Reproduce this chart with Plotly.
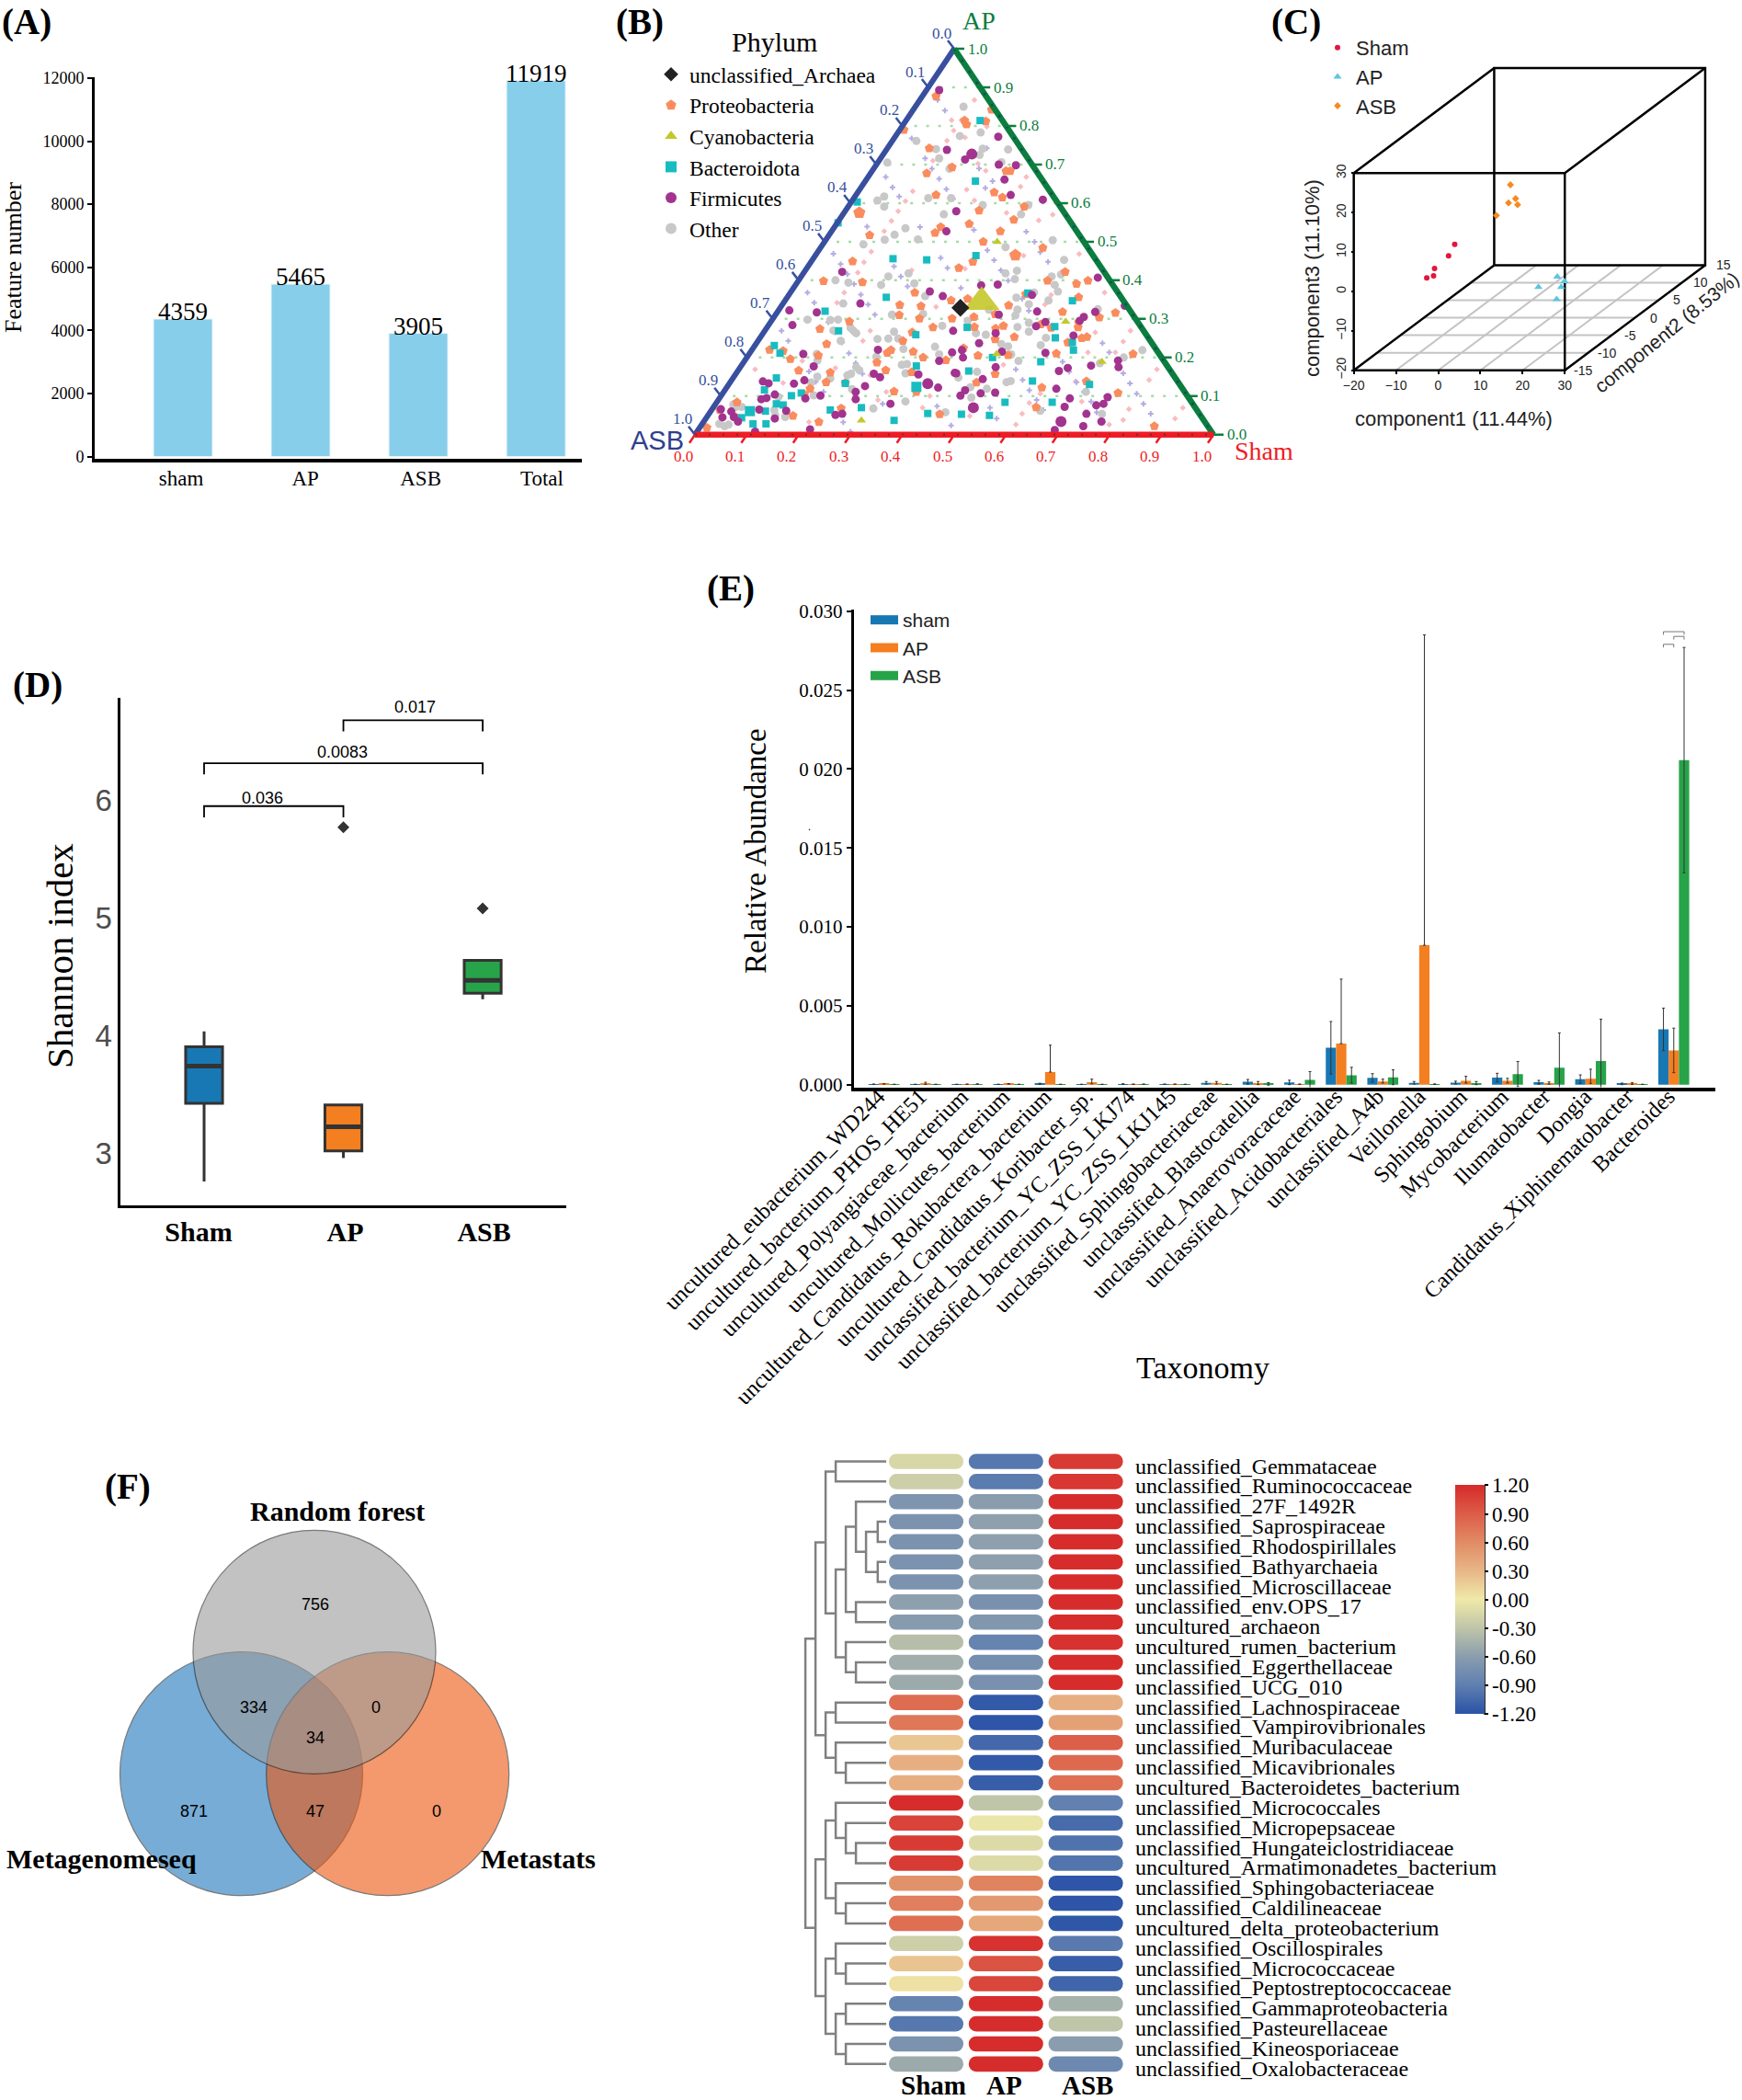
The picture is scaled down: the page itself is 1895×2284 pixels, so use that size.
import plotly.graph_objects as go

W, H = 1895, 2284
SERIF = "Liberation Serif"
SANS = "Liberation Sans"

# ---------- Panel A ----------
a_labels = ["sham", "AP", "ASB", "Total"]
a_values = [4359, 5465, 3905, 11919]
a_ticks = [0, 2000, 4000, 6000, 8000, 10000, 12000]

# ---------- Panel B : ternary plane coordinates (horizontal position, AP share) ----------
b_ticks = [0.0, 0.1, 0.2, 0.3, 0.4, 0.5, 0.6, 0.7, 0.8, 0.9, 1.0]
b_grid = [0.1, 0.2, 0.3, 0.4, 0.5, 0.6, 0.7, 0.8, 0.9]
archaea = [(.512, .329)]
cyano_big = [(.553, .344)]
cyano = [(.321, .037), (.583, .500), (.715, .293), (.582, .209), (.785, .189)]
firm_big = [(.534, .727), (.449, .132), (.537, .070), (.706, .034)]
firmicutes = [
    (.471, .893), (.521, .713), (.486, .738), (.586, .700), (.619, .698), (.597, .661), (.609, .621), (.671, .609),
    (.504, .579), (.485, .527), (.585, .772), (.284, .422), (.182, .322), (.235, .317), (.188, .284), (.319, .340),
    (.453, .371), (.478, .359), (.353, .220), (.498, .269), (.209, .209), (.229, .177), (.496, .213), (.471, .191),
    (.501, .160), (.431, .156), (.345, .158), (.357, .149), (.328, .126), (.211, .141), (.191, .132), (.131, .138),
    (.142, .133), (.310, .111), (.242, .101), (.310, .092), (.154, .104), (.138, .095), (.128, .092), (.213, .094),
    (.377, .080), (.469, .122), (.124, .065), (.070, .060), (.050, .066), (.053, .045), (.075, .046), (.083, .034),
    (.154, .042), (.176, .062), (.271, .051), (.284, .054), (.222, .014), (.116, .008), (.777, .407), (.552, .387),
    (.584, .389), (.650, .362), (.829, .334), (.660, .319), (.586, .311), (.772, .318), (.750, .305), (.676, .292),
    (.658, .281), (.742, .295), (.730, .257), (.580, .263), (.548, .237), (.515, .219), (.517, .200), (.592, .215),
    (.676, .212), (.816, .192), (.817, .175), (.764, .179), (.719, .173), (.702, .165), (.504, .159), (.580, .175),
    (.555, .144), (.521, .115), (.512, .101), (.551, .107), (.579, .109), (.697, .119), (.796, .097), (.723, .094),
    (.788, .080), (.774, .076), (.713, .072), (.755, .054), (.784, .034), (.749, .022), (.694, .012),
]
proteo_big = [(.618, .465), (.317, .575)]
proteobacteria = [
    (.465, .877), (.572, .842), (.520, .814), (.524, .804), (.561, .812), (.403, .790), (.452, .742), (.496, .693),
    (.447, .677), (.600, .683), (.608, .683), (.577, .628), (.593, .615), (.465, .621), (.548, .581), (.635, .591),
    (.615, .557), (.529, .546), (.337, .517), (.474, .538), (.463, .523), (.589, .527), (.304, .449), (.248, .398),
    (.323, .395), (.395, .336), (.424, .368), (.436, .333), (.494, .348), (.394, .310), (.433, .301), (.496, .301),
    (.298, .293), (.241, .274), (.459, .278), (.419, .265), (.254, .235), (.401, .243), (.144, .220), (.170, .217),
    (.238, .205), (.378, .219), (.371, .212), (.421, .215), (.440, .200), (.184, .196), (.351, .187), (.484, .193),
    (.200, .166), (.368, .167), (.418, .162), (.261, .161), (.253, .136), (.222, .119), (.290, .134), (.384, .112),
    (.211, .104), (.427, .111), (.282, .068), (.189, .049), (.239, .033), (.081, .084), (.048, .064), (.078, .046),
    (.472, .053), (.023, .018), (.556, .500), (.671, .484), (.536, .448), (.509, .432), (.714, .422), (.758, .399),
    (.736, .391), (.680, .399), (.740, .356), (.638, .364), (.605, .335), (.526, .352), (.709, .318), (.811, .316),
    (.579, .312), (.538, .305), (.780, .304), (.740, .291), (.667, .286), (.595, .282), (.580, .275), (.539, .279),
    (.687, .277), (.739, .278), (.579, .247), (.616, .253), (.746, .250), (.756, .253), (.719, .239), (.726, .239),
    (.518, .224), (.604, .206), (.697, .210), (.546, .205), (.845, .209), (.579, .157), (.543, .135), (.755, .138),
    (.669, .122), (.816, .108), (.658, .071), (.886, .022),
]
bact_big = [(.427, .124), (.106, .061)]
bacteroidota = [
    (.550, .814), (.541, .657), (.313, .603), (.276, .549), (.382, .456), (.447, .453), (.369, .356), (.251, .320),
    (.277, .269), (.426, .259), (.153, .231), (.164, .211), (.427, .178), (.157, .147), (.290, .133), (.134, .116),
    (.205, .108), (.186, .101), (.157, .080), (.170, .077), (.136, .061), (.090, .044), (.112, .028), (.137, .028),
    (.261, .064), (.321, .070), (.384, .037), (.449, .055), (.542, .464), (.642, .367), (.728, .347), (.525, .278),
    (.694, .280), (.695, .251), (.728, .239), (.730, .219), (.574, .200), (.667, .189), (.528, .165), (.651, .139),
    (.761, .130), (.598, .084), (.689, .084), (.514, .053), (.568, .050),
]
other = [
    (.518, .850), (.511, .774), (.551, .783), (.427, .761), (.465, .740), (.555, .741), (.549, .725), (.604, .739),
    (.471, .716), (.371, .705), (.491, .689), (.591, .706), (.365, .617), (.352, .607), (.365, .591), (.450, .613),
    (.494, .613), (.555, .595), (.643, .595), (.480, .571), (.629, .571), (.406, .535), (.385, .518), (.325, .493),
    (.366, .505), (.430, .506), (.271, .400), (.296, .394), (.359, .388), (.373, .410), (.412, .418), (.423, .392),
    (.444, .359), (.286, .340), (.380, .311), (.440, .313), (.217, .298), (.261, .297), (.276, .298), (.300, .277),
    (.306, .269), (.311, .263), (.267, .270), (.281, .243), (.384, .267), (.352, .248), (.373, .249), (.392, .249),
    (.477, .282), (.463, .228), (.402, .222), (.350, .202), (.235, .209), (.236, .192), (.471, .208), (.399, .181),
    (.409, .183), (.311, .175), (.317, .167), (.301, .158), (.294, .154), (.236, .150), (.406, .159), (.261, .146),
    (.224, .135), (.303, .118), (.229, .102), (.406, .086), (.161, .098), (.153, .064), (.090, .072), (.079, .072),
    (.074, .078), (.155, .050), (.047, .028), (.057, .022), (.065, .026), (.344, .068), (.483, .058), (.174, .046),
    (.599, .486), (.690, .504), (.712, .453), (.621, .425), (.599, .418), (.617, .403), (.706, .415), (.688, .410),
    (.694, .388), (.700, .371), (.620, .355), (.654, .368), (.682, .348), (.644, .338), (.622, .324), (.618, .309),
    (.777, .325), (.526, .295), (.622, .279), (.644, .290), (.644, .267), (.677, .251), (.542, .263), (.561, .259),
    (.591, .235), (.604, .229), (.667, .232), (.610, .208), (.624, .191), (.544, .163), (.508, .148), (.601, .136),
    (.609, .139), (.563, .119), (.531, .123), (.533, .096), (.863, .219), (.827, .200), (.781, .185), (.754, .111),
    (.666, .062), (.785, .054), (.567, .324),
]
minor_pink = [
    (.539, .867), (.495, .815), (.514, .815), (.499, .788), (.486, .762), (.563, .798), (.459, .710), (.521, .770),
    (.546, .702), (.561, .684), (.628, .643), (.639, .668), (.524, .635), (.420, .631), (.406, .605), (.392, .579),
    (.379, .554), (.365, .527), (.663, .555), (.690, .570), (.601, .575), (.539, .607), (.340, .474), (.326, .447),
    (.314, .420), (.288, .368), (.274, .342), (.338, .269), (.324, .243), (.170, .134), (.207, .191), (.116, .169),
    (.353, .090), (.369, .111), (.439, .070), (.220, .033), (.453, .100), (.465, .331), (.418, .426), (.338, .154),
    (.271, .173), (.373, .209), (.741, .468), (.634, .464), (.521, .430), (.790, .368), (.687, .362), (.675, .337),
    (.840, .269), (.826, .241), (.772, .265), (.758, .213), (.811, .213), (.891, .169), (.876, .142), (.941, .070),
    (.926, .042), (.837, .066), (.826, .038), (.746, .086), (.645, .082), (.631, .054), (.619, .026), (.530, .048),
    (.595, .181), (.666, .106), (.734, .138), (.799, .026),
]
minor_violet = [
    (.468, .867), (.482, .840), (.418, .768), (.444, .716), (.457, .689), (.471, .663), (.368, .668), (.381, .641),
    (.394, .617), (.485, .636), (.498, .611), (.574, .657), (.560, .639), (.548, .690), (.563, .742), (.639, .526),
    (.538, .531), (.434, .538), (.332, .539), (.267, .469), (.281, .442), (.294, .416), (.307, .390), (.320, .363),
    (.334, .337), (.347, .311), (.217, .368), (.230, .342), (.167, .269), (.180, .243), (.257, .291), (.270, .265),
    (.284, .239), (.297, .211), (.310, .185), (.323, .158), (.207, .213), (.220, .164), (.233, .137), (.248, .111),
    (.362, .080), (.286, .032), (.300, .008), (.397, .410), (.410, .384), (.384, .436), (.487, .432), (.474, .458),
    (.467, .074), (.494, .024), (.564, .478), (.577, .452), (.590, .426), (.604, .399), (.681, .448), (.655, .500),
    (.666, .473), (.631, .352), (.644, .321), (.513, .380), (.786, .237), (.799, .213), (.709, .189), (.722, .163),
    (.736, .136), (.750, .111), (.764, .086), (.775, .058), (.787, .033), (.619, .169), (.632, .142), (.645, .115),
    (.659, .090), (.672, .064), (.839, .133), (.852, .106), (.865, .080), (.879, .054), (.826, .159), (.569, .070),
    (.582, .042),
]

# ---------- Panel C ----------
c_ticks13 = [-20, -10, 0, 10, 20, 30]
c_ticks2 = [-15, -10, -5, 0, 5, 10, 15]
sham_c1 = [-7.17, -8.63, -11.95, -12.18, -13.80]
sham_c2 = [-5, -5, -5, -5, -5]
sham_c3 = [3.07, 0.12, -3.07, -4.94, -5.48]
ap_c1 = [11.59, 13.29, 12.52, 7.12, 11.44]
ap_c2 = [0, 0, 0, 0, 0]
ap_c3 = [-9.62, -10.79, -12.26, -12.26, -15.30]
asb_c1 = [-5.06, -3.83, -5.52, -3.36, -8.38]
asb_c2 = [5, 5, 5, 5, 5]
asb_c3 = [9.27, 5.77, 4.68, 4.21, 1.49]

# ---------- Panel D ----------
d_groups = ["Sham", "AP", "ASB"]
d_q1 = [3.465, 3.06, 4.40]
d_median = [3.78, 3.265, 4.51]
d_q3 = [3.945, 3.45, 4.68]
d_low = [2.80, 3.00, 4.35]
d_high = [4.075, 3.45, 4.68]
d_outlier_x = [1, 2]
d_outlier_y = [5.81, 5.12]
d_pvals = ["0.017", "0.0083", "0.036"]
d_pairs = [(1, 2), (0, 2), (0, 1)]
d_levels = [6.72, 6.355, 5.99]
d_tick_text = ["3", "4", "5", "6"]

# ---------- Panel E ----------
e_taxa = [
    "uncultured_eubacterium_WD244", "uncultured_bacterium_PHOS_HE51", "uncultured_Polyangiaceae_bacterium",
    "uncultured_Mollicutes_bacterium", "uncultured_Candidatus_Rokubactera_bacterium",
    "uncultured_Candidatus_Koribacter_sp.", "unclassified_bacterium_YC_ZSS_LKJ74",
    "unclassified_bacterium_YC_ZSS_LKJ145", "unclassified_Sphingobacteriaceae", "unclassified_Blastocatellia",
    "unclassified_Anaerovoracaceae", "unclassified_Acidobacteriales", "unclassified_A4b", "Veillonella",
    "Sphingobium", "Mycobacterium", "Ilumatobacter", "Dongia", "Candidatus_Xiphinematobacter", "Bacteroides",
]
e_sham = [.00003, .00002, .00002, .00002, .00005, .00002, .00004, .00003, .00012, .00018, .00014, .00234, .00043,
          .00012, .00013, .00045, .00015, .00035, .00005, .0035]
e_ap = [.00005, .00008, .00003, .00005, .0008, .00015, .00003, .00003, .00012, .00008, .00003, .0026, .0002,
        .00883, .00025, .00025, .00008, .00038, .00007, .00217]
e_asb = [.00002, .00002, .00004, .00002, .00002, .00002, .00003, .00002, .00002, .00005, .0003, .0006, .00047,
         .00003, .0001, .00067, .00107, .0015, .00002, .02056]
e_sham_err = [.00001, .00001, .00001, .00001, .00004, .00001, .00002, .00001, .00008, .00015, .00014, .00166, .00027,
              .00008, .00009, .00027, .00012, .00027, .00005, .00135]
e_ap_err = [.00001, .00007, .00001, .00002, .0017, .0002, .00001, .00001, .00008, .00012, .00001, .00409, .00015,
            .01967, .00028, .00015, .00009, .0006, .00005, .00141]
e_ap_low = [.00001, .00007, .00001, .00002, 0, .0001, .00001, .00001, .00008, .00008, .00001, 0, .0001,
            0, .00015, .00015, .00005, .0003, .00005, .00141]
e_asb_err = [.00001, .00001, .00001, .00001, .00001, .00001, .00001, .00001, .00001, .00008, .00053, .0005, .00047,
             .00002, .0001, .0008, .00221, .00265, .00001, .00714]
e_ticks = [0, .005, .01, .015, .02, .025, .03]
e_ticktext = ["0.000", "0.005", "0.010", "0.015", "0 020", "0.025", "0.030"]
e_sig_levels = [.0279, .0284, .0287]

# ---------- Panel F ----------
venn_counts = ["756", "334", "0", "34", "871", "47", "0"]
venn_names = ["Random forest", "Metagenomeseq", "Metastats"]

# ---------- Heat map ----------
heat_rows = [
    "unclassified_Gemmataceae", "unclassified_Ruminococcaceae", "unclassified_27F_1492R", "unclassified_Saprospiraceae",
    "unclassified_Rhodospirillales", "unclassified_Bathyarchaeia", "unclassified_Microscillaceae",
    "unclassified_env.OPS_17", "uncultured_archaeon", "uncultured_rumen_bacterium", "unclassified_Eggerthellaceae",
    "unclassified_UCG_010", "unclassified_Lachnospiraceae", "unclassified_Vampirovibrionales",
    "unclassified_Muribaculaceae", "unclassified_Micavibrionales", "uncultured_Bacteroidetes_bacterium",
    "unclassified_Micrococcales", "unclassified_Micropepsaceae", "unclassified_Hungateiclostridiaceae",
    "uncultured_Armatimonadetes_bacterium", "unclassified_Sphingobacteriaceae", "unclassified_Caldilineaceae",
    "uncultured_delta_proteobacterium", "unclassified_Oscillospirales", "unclassified_Micrococcaceae",
    "unclassified_Peptostreptococcaceae", "unclassified_Gammaproteobacteria", "unclassified_Pasteurellaceae",
    "unclassified_Kineosporiaceae", "unclassified_Oxalobacteraceae",
]
heat_cols = ["Sham", "AP", "ASB"]
heat_sham = [-.15, -.22, -.68, -.70, -.70, -.70, -.70, -.58, -.62, -.35, -.47, -.50, .80, .72, .20, .35, .35, 1.18,
             1.05, 1.10, 1.10, .55, .68, .78, -.22, .22, .05, -.85, -.95, -.70, -.50]
heat_ap = [-.95, -.92, -.60, -.58, -.58, -.58, -.58, -.72, -.66, -.85, -.74, -.72, -1.15, -1.18, -1.05, -1.15, -1.12,
           -.30, -.03, -.12, -.12, .65, .50, .40, 1.15, .95, 1.03, 1.18, 1.18, 1.19, 1.18]
heat_asb = [1.10, 1.12, 1.18, 1.18, 1.18, 1.18, 1.18, 1.18, 1.18, 1.15, 1.18, 1.19, .35, .45, .88, .82, .78, -.88,
            -1.03, -.98, -.97, -1.18, -1.18, -1.17, -.93, -1.12, -1.07, -.45, -.30, -.60, -.80]
heat_ticks = [-1.2, -.9, -.6, -.3, 0, .3, .6, .9, 1.2]
# (merge height, left child, right child); integers are leaf rows
dendro_tree = (8,
    (7,
     (6, (5, 0, 1), (5, (4, (3, 2, (2, (1, 3, 4), (1, 5, 6))), (3, 7, 8)), (4, 9, (3, 10, 11)))),
     (6, (5, 12, 13), (5, 14, (4, 15, 16)))),
    (7,
     (6, (5, 17, (4, 18, (3, 19, 20))), (5, 21, (4, 22, 23))),
     (6, (5, 24, (4, 25, 26)), (5, (4, 27, 28), (4, 29, 30)))))

# ---------- helpers ----------
def xd(x0, x1):
    return [x0 / W, x1 / W]

def yd(y0, y1):
    return [1 - y1 / H, 1 - y0 / H]

annotations, shapes, traces = [], [], []

def ann(text, px, py, size, color="black", bold=False, angle=0, family=SERIF):
    annotations.append(dict(text=f"<b>{text}</b>" if bold else text, x=px / W, y=1 - py / H, xref="paper", yref="paper",
                            showarrow=False, xanchor="center", yanchor="middle", textangle=angle,
                            font=dict(size=size, color=color, family=family)))

def dann(text, x, y, ax, size, color="black", xs=0, ys=0, family=SERIF, xanchor="center", angle=0):
    annotations.append(dict(text=text, x=x, y=y, xref="x" + ax, yref="y" + ax, showarrow=False, xanchor=xanchor,
                            yanchor="middle", xshift=xs, yshift=ys, textangle=angle,
                            font=dict(size=size, color=color, family=family)))

def add(tr):
    if tr.showlegend is None:
        tr.showlegend = False
    traces.append(tr)

def line_tr(x, y, ax, color, width, dash=None):
    add(go.Scatter(x=x, y=y, mode="lines", xaxis="x" + ax, yaxis="y" + ax, hoverinfo="skip", cliponaxis=False,
                   line=dict(color=color, width=width, dash=dash)))

def pts(pairs, ax, symbol, size, color, name=None, legend=None, rank=None, opacity=1.0):
    add(go.Scatter(x=[p[0] for p in pairs], y=[p[1] for p in pairs], mode="markers", xaxis="x" + ax, yaxis="y" + ax,
                   cliponaxis=False, name=name, showlegend=name is not None, legend=legend, legendrank=rank,
                   marker=dict(symbol=symbol, size=size, color=color, opacity=opacity, line=dict(width=0))))

for lab, px, py in [("(A)", 29, 24), ("(B)", 696, 24), ("(C)", 1410, 24), ("(D)", 41, 745), ("(E)", 795, 640), ("(F)", 139, 1617)]:
    ann(lab, px, py, 39, bold=True)

# ---------- A ----------
add(go.Bar(x=list(range(4)), y=a_values, width=0.5, marker=dict(color="#87ceeb", line=dict(color="#e3f4fb", width=1)),
           xaxis="x", yaxis="y", hoverinfo="skip"))
for i, v in enumerate(a_values):
    dann(str(v), i, v, "", 27, ys=8)
ann("Feature number", 15, 280, 26, angle=-90)

# ---------- B ----------
t_color_left, t_color_right, t_color_base = "#36509f", "#0b7d3e", "#ee1c25"
for g in b_grid:
    line_tr([g / 2, 1 - g / 2], [g, g], "2", "#a6dca6", 2.5, "3px,10px")
pts(minor_pink, "2", "diamond", 5, "#f9bcc0")
pts(minor_violet, "2", "cross", 5, "#b4ace2")
pts(other, "2", "circle", 9, "#c8c8c8", name="Other", rank=6)
pts(proteobacteria, "2", "pentagon", 10.5, "#fa8c5e", name="Proteobacteria", rank=2)
pts(proteo_big, "2", "pentagon", 14, "#fa8c5e")
pts(bacteroidota, "2", "square", 8, "#18bcc0", name="Bacteroidota", rank=4)
pts(bact_big, "2", "square", 11, "#18bcc0")
pts(firmicutes, "2", "circle", 9, "#a2338f", name="Firmicutes", rank=5)
pts(firm_big, "2", "circle", 12, "#a2338f")
pts(cyano, "2", "triangle-up", 9, "#c4c82a", name="Cyanobacteria", rank=3)
pts(cyano_big, "2", "triangle-up", 34, "#c4c82a", opacity=0.9)
pts(archaea, "2", "diamond", 15, "#222222", name="unclassified_Archaea", rank=1)
line_tr([0, .5], [0, 1], "2", t_color_left, 6)
line_tr([.5, 1], [1, 0], "2", t_color_right, 6.5)
line_tr([0, 1], [0, 0], "2", t_color_base, 6.5)
line_tr([0, .5], [0, 1], "2", "#6a3a9a", 2, "2px,13px")
line_tr([.5, 1], [1, 0], "2", "#0b4f55", 2.5, "2.5px,12px")
line_tr([0, 1], [0, 0], "2", "#7a2a2a", 2, "2px,13px")
TW, TH = 564, 419
for t in b_ticks:
    s = f"{t:.1f}"
    bx, by = t, 0
    lx, ly = .5 * (1 - t), 1 - t
    rx, ry = 1 - .5 * t, t
    line_tr([bx, bx - 6 / TW], [by, by - 9 / TH], "2", t_color_base, 2.5)
    line_tr([lx, lx - 7 / TW], [ly, ly + 9 / TH], "2", t_color_left, 2.5)
    line_tr([rx, rx + 11 / TW], [ry, ry], "2", t_color_right, 2.5)
    dann(s, bx, by, "2", 17, "#ee1c25", xs=-13, ys=-24)
    dann(s, lx, ly, "2", 17, t_color_left, xs=-14, ys=17)
    dann(s, rx, ry, "2", 17, t_color_right, xs=25, ys=0)
ann("AP", 1065, 23, 28, t_color_right)
ann("ASB", 715, 479, 29, "#2f3f90", family=SANS)
ann("Sham", 1375, 491, 28, "#ee1c25")
ann("Phylum", 842, 45, 30)

# ---------- C ----------
DX, DY = 1.109, 0.889  # oblique projection of component2 on the drawing plane

def proj(c1, c2, c3):
    return [a + (b + 15) * DX for a, b in zip(c1, c2)], [a + (b + 15) * DY for a, b in zip(c3, c2)]

for v in c_ticks2[1:-1]:
    fx_, fy_ = proj([-20, 30], [v, v], [-20, -20])
    line_tr(fx_, fy_, "3", "#c4c4c4", 2)
for v in c_ticks13[1:-1]:
    fx_, fy_ = proj([v, v], [-15, 15], [-20, -20])
    line_tr(fx_, fy_, "3", "#c4c4c4", 2)
box_edges = [
    ([-20, 30, 30, -20, -20], [-15] * 5, [-20, -20, 30, 30, -20]),
    ([-20, 30, 30, -20, -20], [15] * 5, [-20, -20, 30, 30, -20]),
    ([-20, -20], [-15, 15], [-20, -20]), ([30, 30], [-15, 15], [-20, -20]),
    ([-20, -20], [-15, 15], [30, 30]), ([30, 30], [-15, 15], [30, 30]),
]
for e in box_edges:
    ex, ey = proj(*e)
    line_tr(ex, ey, "3", "black", 2.5)
for nm, c1, c2, c3, sym, sz, col in [("Sham", sham_c1, sham_c2, sham_c3, "circle", 6, "#e2163c"),
                                     ("AP", ap_c1, ap_c2, ap_c3, "triangle-up", 8, "#5cc6dc"),
                                     ("ASB", asb_c1, asb_c2, asb_c3, "diamond", 6, "#f58a1f")]:
    px_, py_ = proj(c1, c2, c3)
    add(go.Scatter(x=px_, y=py_, mode="markers", xaxis="x3", yaxis="y3", name=nm, showlegend=True, legend="legend2",
                   marker=dict(symbol=sym, size=sz, color=col, line=dict(width=0)), cliponaxis=False))
for v in c_ticks2:
    gx, gy = proj([30], [v], [-20])
    dann(str(v), gx[0], gy[0], "3", 14, "#222222", xs=20, ys=0, family=SANS)
ann("component3 (11.10%)", 1428, 303, 22, "#222222", angle=-90, family=SANS)
ann("component1 (11.44%)", 1581, 455, 22, "#222222", family=SANS)
ann("component2 (8.53%)", 1813, 362, 21, "#222222", angle=-39, family=SANS)

# ---------- D ----------
d_width = 0.265
d_colors = ["#1878b4", "#f47f20", "#27a349"]
for i, g in enumerate(d_groups):
    add(go.Box(x=[i], q1=[d_q1[i]], median=[d_median[i]], q3=[d_q3[i]], lowerfence=[d_low[i]], upperfence=[d_high[i]],
               width=d_width, whiskerwidth=0, fillcolor=d_colors[i], line=dict(color="#333333", width=3),
               boxpoints=False, xaxis="x4", yaxis="y4", hoverinfo="skip"))
    line_tr([i - d_width / 2, i + d_width / 2], [d_median[i]] * 2, "4", "#333333", 5)
add(go.Scatter(x=d_outlier_x, y=d_outlier_y, mode="markers", xaxis="x4", yaxis="y4",
               marker=dict(symbol="diamond", size=10, color="#333333")))
for (p, q), lev, txt, (tx, ty) in zip(d_pairs, d_levels, d_pvals, [(451, 769), (372, 818), (285, 868)]):
    line_tr([p, p, q, q], [lev - .095, lev, lev, lev - .095], "4", "black", 1.8)
    ann(txt, tx, ty, 18, family=SANS)
ann("Shannon index", 65, 1040, 41, angle=-90)

# ---------- E ----------
e_x = list(range(len(e_taxa)))
e_w = 0.248
for vals, hi, lo, col, off in [(e_sham, e_sham_err, e_sham_err, "#1878b4", -1.5), (e_ap, e_ap_err, e_ap_low, "#f47f20", -.5),
                               (e_asb, e_asb_err, e_asb_err, "#27a349", .5)]:
    add(go.Bar(x=e_x, y=vals, width=e_w, offset=off * e_w, marker=dict(color=col, line=dict(width=0)), xaxis="x5", yaxis="y5",
               hoverinfo="skip", error_y=dict(type="data", symmetric=False, array=hi, arrayminus=lo, color="#333333",
                                              thickness=1, width=1.5)))
for nm, col in [("sham", "#1878b4"), ("AP", "#f47f20"), ("ASB", "#27a349")]:
    add(go.Scatter(x=[None], y=[None], mode="lines", name=nm, showlegend=True, legend="legend3", xaxis="x5", yaxis="y5",
                   line=dict(color=col, width=10)))
for lev, (p, q) in zip(e_sig_levels, [(-1, 0), (0, 1), (-1, 1)]):
    line_tr([19 + p * e_w, 19 + p * e_w, 19 + q * e_w, 19 + q * e_w], [lev - .0002, lev, lev, lev - .0002], "5", "#555555", 0.8)
ann("Relative Abundance", 822, 926, 33, angle=-90)
ann("Taxonomy", 1308, 1487, 34)
ann(".", 880, 899, 12)

# ---------- F ----------
for cx, cy, col in [(262.5, 1929.2, "#1e76bb"), (421.7, 1929.2, "#ed570d"), (342, 1796.8, "#9b9b9b")]:
    shapes.append(dict(type="circle", xref="paper", yref="paper", x0=(cx - 132) / W, x1=(cx + 132) / W,
                       y0=1 - (cy + 132.5) / H, y1=1 - (cy - 132.5) / H, fillcolor=col, opacity=0.6,
                       line=dict(color="#222222", width=1.2)))
for txt, (px, py) in zip(venn_counts, [(342.6, 1745), (276, 1857), (409, 1857), (342.6, 1890), (211, 1970), (342.6, 1970), (475, 1970)]):
    ann(txt, px, py, 18, family=SANS)
for txt, (px, py) in zip(venn_names, [(367, 1643), (110, 2021), (585, 2021)]):
    ann(txt, px, py, 30, bold=True)

# ---------- Heat map ----------
cell_w = 0.933
for c, vals in enumerate([heat_sham, heat_ap, heat_asb]):
    add(go.Bar(y=list(range(len(heat_rows))), x=[cell_w] * len(vals), base=c - cell_w / 2, orientation="h", width=.76, offset=-.38,
               marker=dict(color=vals, coloraxis="coloraxis", cornerradius=8, line=dict(width=0)),
               xaxis="x7", yaxis="y7", hoverinfo="skip"))
for r, nm in enumerate(heat_rows):
    dann(nm, 2.598, r, "7", 24, ys=-5, xanchor="left")
for txt, px in zip(heat_cols, [1015, 1092, 1183]):
    ann(txt, px, 2268, 29, bold=True)
dx_, dy_ = [], []
LEAF_X, STEP = -.50, 0.1267

def walk(node):
    if isinstance(node, int):
        return LEAF_X, node
    h, a, b = node
    x = LEAF_X - h * STEP + (0.02 if h == 1 else 0)
    ax_, ay_ = walk(a)
    bx_, by_ = walk(b)
    dx_.extend([ax_, x, x, bx_, None])
    dy_.extend([ay_, ay_, by_, by_, None])
    return x, (ay_ + by_) / 2

walk(dendro_tree)
line_tr(dx_, dy_, "7", "#808080", 2.5)

# ---------- layout ----------
hide = dict(showgrid=False, zeroline=False, visible=False, automargin=False)
base = dict(showgrid=False, zeroline=False, showline=True, linecolor="black", tickcolor="black", automargin=False)
shapes.append(dict(type="line", xref="paper", yref="paper", x0=1614.8 / W, x1=1614.8 / W, y0=1 - 1864.7 / H, y1=1 - 1615.4 / H,
                   line=dict(color="black", width=2)))
layout = dict(
    template="none", font=dict(color="black", family=SERIF),
    width=W, height=H, margin=dict(l=0, r=0, t=0, b=0, pad=0, autoexpand=False), paper_bgcolor="white", plot_bgcolor="rgba(0,0,0,0)",
    barmode="overlay", showlegend=True, annotations=annotations, shapes=shapes,
    xaxis=dict(domain=xd(103, 633), range=[-.75, 3.39], linewidth=4, tickvals=[-.015, 1.04, 2.02, 3.05], ticktext=a_labels,
               ticklabelstandoff=-3, ticks="", tickfont=dict(family=SERIF, size=23, color="black"), **base),
    yaxis=dict(domain=yd(84, 499), range=[-73, 12029], linewidth=3, tickvals=a_ticks, tickformat="d", ticks="outside", ticklen=5, tickwidth=2,
               tickfont=dict(family=SERIF, size=18, color="black"), **base),
    xaxis2=dict(domain=xd(727.8, 1348.2), range=[-.05, 1.05], anchor="y2", **hide),
    yaxis2=dict(domain=yd(32.05, 493.75), range=[-.05, 1.05], anchor="x2", **hide),
    xaxis3=dict(domain=xd(1463.5, 1862.9), range=[-22, 65], anchor="free", position=1 - 402.7 / H, showgrid=False, zeroline=False,
                tickvals=c_ticks13, automargin=False, showline=False, ticks="outside", ticklen=3, tickwidth=2, tickcolor="black",
                tickfont=dict(family=SANS, size=14, color="#222222")),
    yaxis3=dict(domain=yd(68.3, 411.3), range=[-22, 58], anchor="free", position=1472.7 / W, showgrid=False, zeroline=False,
                tickvals=c_ticks13, automargin=False, showline=False, ticks="outside", ticklen=3, tickwidth=2, tickcolor="black",
                tickangle=-90, tickfont=dict(family=SANS, size=14, color="#222222")),
    xaxis4=dict(domain=xd(131.4, 615.7), range=[-.598, 2.598], anchor="y4", linewidth=3, tickvals=[-.04, 1.013, 2.01],
                ticktext=[f"<b>{g}</b>" for g in d_groups], ticks="", tickfont=dict(family=SERIF, size=30, color="black"), **base),
    yaxis4=dict(domain=yd(759, 1310.6), range=[2.6, 6.91], anchor="x4", linewidth=3, tickvals=[3.04, 4.04, 5.04, 6.04],
                ticktext=d_tick_text, ticks="", tickfont=dict(family=SANS, size=33, color="#4d4d4d"), **base),
    xaxis5=dict(domain=xd(928.7, 1866), range=[-.728, 20], anchor="y5", linewidth=4, tickvals=e_x, ticktext=e_taxa, tickangle=-45,
                ticklabelstandoff=-18, ticklabelshift=-6, ticks="", tickfont=dict(family=SERIF, size=24.5, color="black"), **base),
    yaxis5=dict(domain=yd(663, 1182.6), range=[-.000169, .0301], anchor="x5", linewidth=3, tickvals=e_ticks, ticktext=e_ticktext,
                ticks="outside", ticklen=5, tickwidth=2, tickfont=dict(family=SERIF, size=21, color="black"), **base),
    xaxis7=dict(domain=xd(870, 1700), range=[-1.584, 7.978], anchor="y7", showgrid=False, zeroline=False, showticklabels=False, automargin=False,
                ticks="", showline=False),
    yaxis7=dict(domain=yd(1570, 2254), range=[30.42, -.893], anchor="x7", visible=False, automargin=False),
    coloraxis=dict(cmin=-1.2, cmax=1.2, colorscale=[[0, "#2a52a6"], [.125, "#5f7fb0"], [.25, "#8a9dae"], [.375, "#bfc5a8"], [.5, "#efe9a8"],
                                                     [.625, "#e8b687"], [.75, "#e18b64"], [.875, "#dc5c48"], [1, "#d62a2a"]],
                   colorbar=dict(x=1582.8 / W, xanchor="left", y=1 - 1615.4 / H, yanchor="top", len=249.3, lenmode="pixels", thickness=32,
                                 thicknessmode="pixels", xpad=0, ypad=0, outlinewidth=0, tickvals=heat_ticks,
                                 ticktext=[f"{t:.2f}" for t in heat_ticks], ticks="outside", ticklen=4, tickcolor="black", tickwidth=2,
                                 tickfont=dict(family=SERIF, size=23, color="black"))),
    legend=dict(x=710 / W, y=1 - 59 / H, xanchor="left", yanchor="top", bgcolor="rgba(0,0,0,0)", borderwidth=0, itemsizing="constant",
                font=dict(family=SERIF, size=23.5, color="black")),
    legend2=dict(x=1435 / W, y=1 - 31 / H, xanchor="left", yanchor="top", bgcolor="rgba(0,0,0,0)", borderwidth=0,
                 font=dict(family=SANS, size=22, color="#222222")),
    legend3=dict(x=942 / W, y=1 - 654 / H, xanchor="left", yanchor="top", bgcolor="rgba(0,0,0,0)", borderwidth=0,
                 font=dict(family=SANS, size=21, color="#222222")),
)

fig = go.Figure(data=traces, layout=layout)
fig.write_html("out.html", config={"displayModeBar": False},
               post_script="document.body.style.margin='0';document.body.style.overflow='hidden';")
